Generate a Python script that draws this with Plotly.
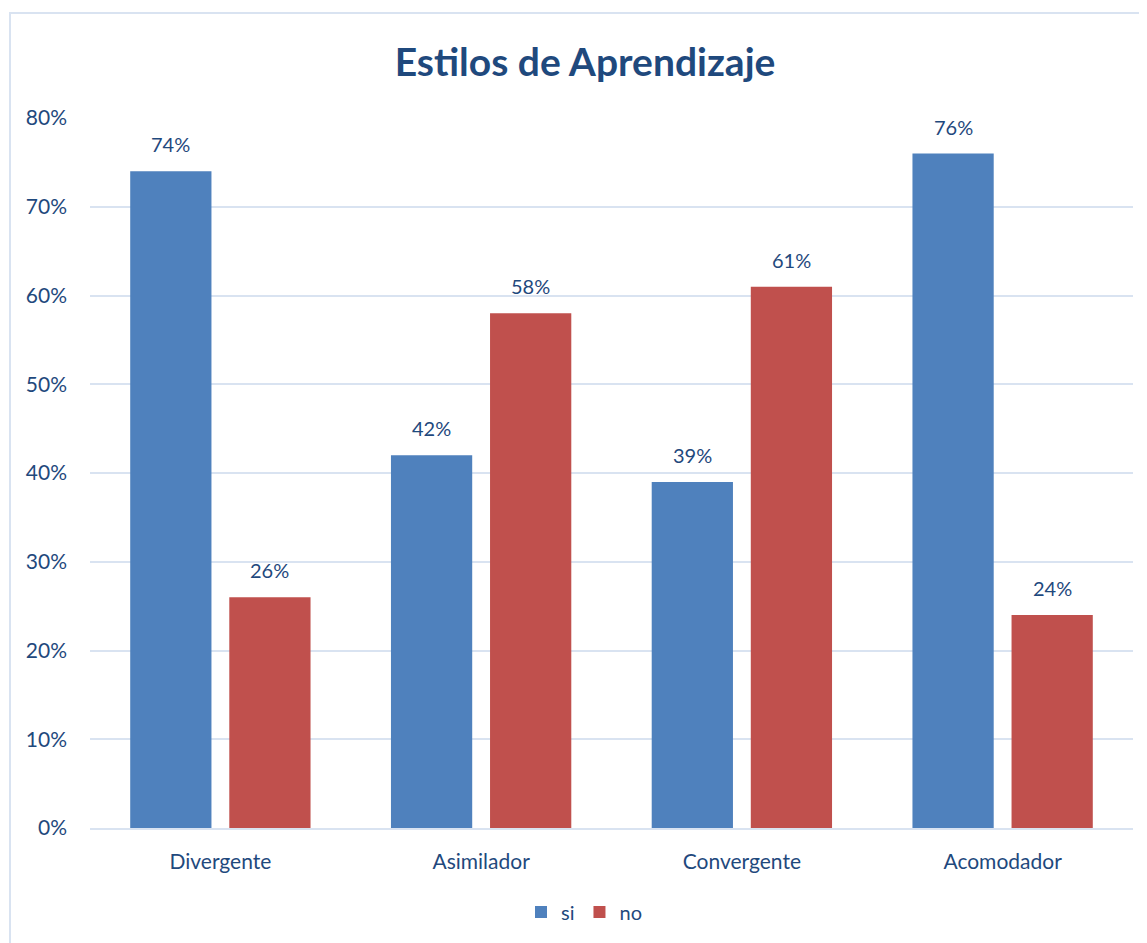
import plotly.graph_objects as go

categories = ["Divergente", "Asimilador", "Convergente", "Acomodador"]
si_values = [0.74, 0.42, 0.39, 0.76]
no_values = [0.26, 0.58, 0.61, 0.24]
series_names = ["si", "no"]
y_ticks = [0, 0.1, 0.2, 0.3, 0.4, 0.5, 0.6, 0.7, 0.8]
y_tick_labels = ["0%", "10%", "20%", "30%", "40%", "50%", "60%", "70%", "80%"]

TEXT = "#1F497D"
FONT = "Lato"
GRID = "#D9E3F1"

# page has an 8px body margin; figure drawn from (8, 8)
OFF = 8
W, H = 1147 - OFF, 943 - OFF
L, R, T, B = 90 - OFF, 14, 118 - OFF, 115
pw, ph = W - L - R, H - T - B

fig = go.Figure()
series = [(series_names[0], si_values, "#4F81BD", -49.5),
          (series_names[1], no_values, "#C0504D", 49.5)]
for name, vals, col, dx in series:
    fig.add_trace(go.Bar(
        x=categories, y=vals, name=name,
        marker=dict(color=col, line=dict(width=0)),
        cliponaxis=False,
    ))
    for c, v in zip(categories, vals):
        fig.add_annotation(x=c, y=v, xref="x", yref="y", text=f"{round(v*100)}%",
                           showarrow=False, xshift=dx, yshift=27, yanchor="middle",
                           font=dict(color=TEXT, size=20, family=FONT))

fig.update_layout(
    width=W, height=H,
    margin=dict(l=L, r=R, t=T, b=B),
    paper_bgcolor="white", plot_bgcolor="white",
    barmode="group", bargap=0.24, bargroupgap=0.18,
    title=dict(text="<b>Estilos de Aprendizaje</b>", x=(585 - OFF) / W, xanchor="center",
               y=1 - (62 - OFF) / H, yanchor="middle",
               font=dict(family=FONT, size=39, color=TEXT)),
    font=dict(family=FONT, color=TEXT, size=20),
    showlegend=True,
    legend=dict(orientation="h", x=(584 - 90) / pw, xanchor="center",
                y=-(912 - 828) / ph, yanchor="middle",
                font=dict(size=20, color=TEXT, family=FONT), itemwidth=30,
                traceorder="normal"),
    yaxis=dict(range=[0, 0.8], tickvals=y_ticks, ticktext=y_tick_labels,
               showgrid=True, gridcolor=GRID, gridwidth=2, zeroline=False,
               showline=False, ticks="", ticklabelstandoff=22,
               tickfont=dict(size=21, color=TEXT, family=FONT)),
    xaxis=dict(showline=True, linecolor=GRID, linewidth=2, ticks="",
               ticklabelstandoff=14,
               tickfont=dict(size=21, color=TEXT, family=FONT)),
    shapes=[dict(type="rect", xref="paper", yref="paper",
                 x0=(10 - 90) / pw, x1=(1160 - 90) / pw,
                 y0=(828 - 960) / ph, y1=(828 - 13) / ph,
                 line=dict(color=GRID, width=2), fillcolor="rgba(0,0,0,0)", layer="below")],
)

fig.write_html("out.html")
